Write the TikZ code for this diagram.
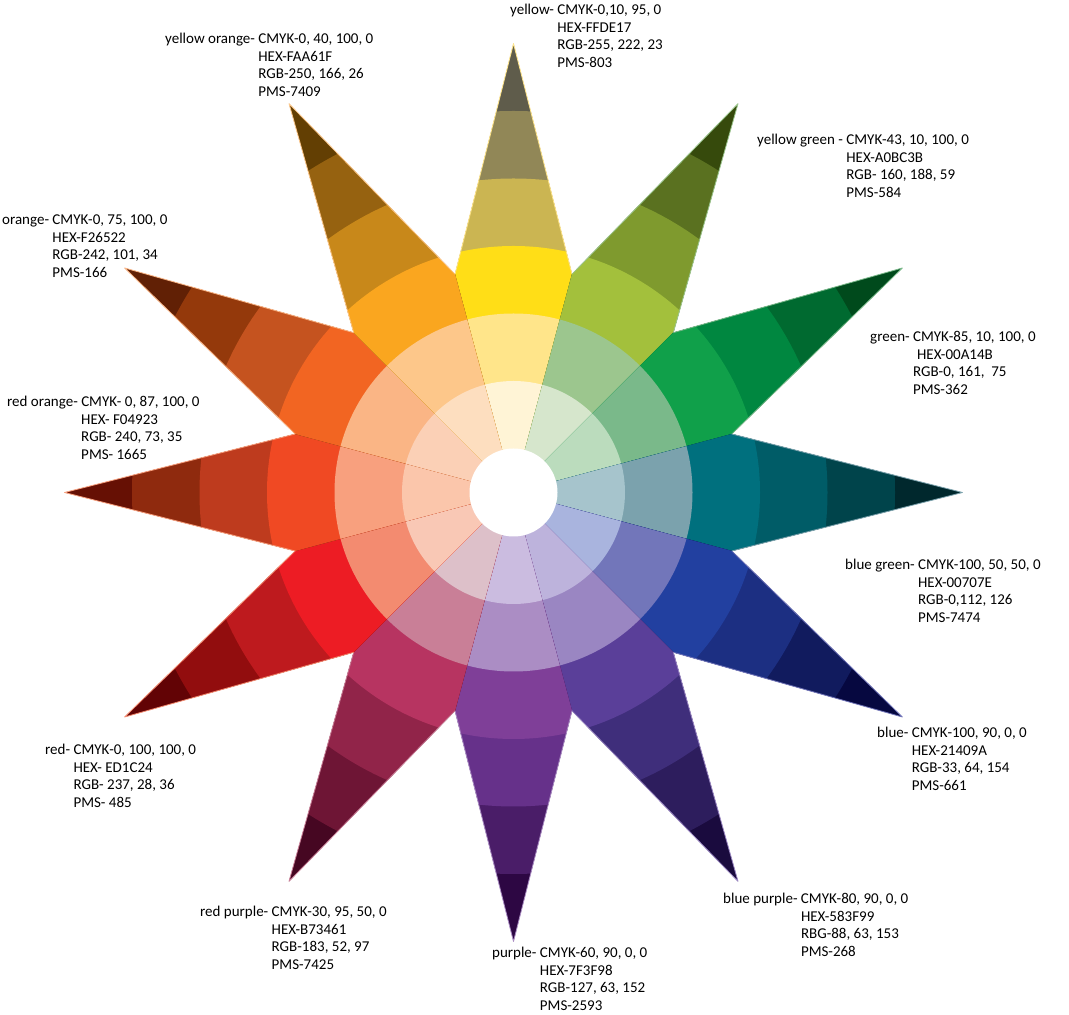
\documentclass[tikz,border=0pt]{standalone}
\usepackage{fontspec}
\setmainfont{Carlito}

% a = inner tint, b = outer tint, c = pure hue, d/e/f = shades
\definecolor{Ya}{HTML}{FFF4D6}\definecolor{Yb}{HTML}{FFE58A}\definecolor{Yc}{HTML}{FFDE17}\definecolor{Yd}{HTML}{CBB552}\definecolor{Ye}{HTML}{918757}\definecolor{Yf}{HTML}{5F5C4B}
\definecolor{YGa}{HTML}{D6E6CC}\definecolor{YGb}{HTML}{9CC68E}\definecolor{YGc}{HTML}{A3C03C}\definecolor{YGd}{HTML}{7F9A2E}\definecolor{YGe}{HTML}{5A7120}\definecolor{YGf}{HTML}{364A0C}
\definecolor{Ga}{HTML}{BBDCBD}\definecolor{Gb}{HTML}{7AB98A}\definecolor{Gc}{HTML}{10A04A}\definecolor{Gd}{HTML}{008740}\definecolor{Ge}{HTML}{006A30}\definecolor{Gf}{HTML}{004A1C}
\definecolor{BGa}{HTML}{A6C4CC}\definecolor{BGb}{HTML}{7BA2AD}\definecolor{BGc}{HTML}{00707E}\definecolor{BGd}{HTML}{005C67}\definecolor{BGe}{HTML}{00444B}\definecolor{BGf}{HTML}{00282D}
\definecolor{Ba}{HTML}{A9B4DE}\definecolor{Bb}{HTML}{7276BA}\definecolor{Bc}{HTML}{2240A0}\definecolor{Bd}{HTML}{1C2F82}\definecolor{Be}{HTML}{111B5E}\definecolor{Bf}{HTML}{060840}
\definecolor{BPa}{HTML}{BDB3DC}\definecolor{BPb}{HTML}{9A86C2}\definecolor{BPc}{HTML}{5A3F99}\definecolor{BPd}{HTML}{3F2E7B}\definecolor{BPe}{HTML}{2D1D5D}\definecolor{BPf}{HTML}{1A0B3E}
\definecolor{Pa}{HTML}{CBBCE0}\definecolor{Pb}{HTML}{AB8DC4}\definecolor{Pc}{HTML}{7F3F98}\definecolor{Pd}{HTML}{66318A}\definecolor{Pe}{HTML}{4A1D68}\definecolor{Pf}{HTML}{2D0743}
\definecolor{RPa}{HTML}{DDC0C9}\definecolor{RPb}{HTML}{C97F97}\definecolor{RPc}{HTML}{B73461}\definecolor{RPd}{HTML}{912449}\definecolor{RPe}{HTML}{6E1535}\definecolor{RPf}{HTML}{460722}
\definecolor{Ra}{HTML}{F9C8B5}\definecolor{Rb}{HTML}{F38B70}\definecolor{Rc}{HTML}{ED1C24}\definecolor{Rd}{HTML}{BE1A1E}\definecolor{Re}{HTML}{920D0E}\definecolor{Rf}{HTML}{620305}
\definecolor{ROa}{HTML}{FBC6AB}\definecolor{ROb}{HTML}{F8A07E}\definecolor{ROc}{HTML}{F04923}\definecolor{ROd}{HTML}{BE3B1E}\definecolor{ROe}{HTML}{8F2A0E}\definecolor{ROf}{HTML}{661004}
\definecolor{Oa}{HTML}{FBD0B6}\definecolor{Ob}{HTML}{FAB585}\definecolor{Oc}{HTML}{F26522}\definecolor{Od}{HTML}{C5531F}\definecolor{Oe}{HTML}{94390B}\definecolor{Of}{HTML}{612005}
\definecolor{YOa}{HTML}{FDDEBF}\definecolor{YOb}{HTML}{FDC78A}\definecolor{YOc}{HTML}{FAA61F}\definecolor{YOd}{HTML}{C8881A}\definecolor{YOe}{HTML}{966210}\definecolor{YOf}{HTML}{633F03}

% one point of the star: #1 direction, #2 colour prefix
\newcommand\petal[2]{%
  \begin{scope}
    \clip (0,0) -- ({#1-15}:226) -- (#1:449) -- ({#1+15}:226) -- cycle;
    \fill[#2f] (0,0) circle (449);
    \fill[#2e] (0,0) circle (381.5);
    \fill[#2d] (0,0) circle (314);
    \fill[#2c] (0,0) circle (246.5);
    \fill[#2b] (0,0) circle (179);
    \fill[#2a] (0,0) circle (111.5);
  \end{scope}
  \draw[#2b, line width=0.8pt, line join=round] ({#1-15}:226) -- (#1:449) -- ({#1+15}:226);}

\newcommand\swatch[5]{\begin{tabular}[t]{@{}l@{\ }l@{}}#1 & #2\\ & #3\\ & #4\\ & #5\end{tabular}}

\begin{document}
\begin{tikzpicture}[x=1pt, y=1pt,
    info/.style={inner sep=0pt, anchor=base west, font=\fontsize{15}{17.5}\selectfont}
]
\path[use as bounding box, fill=white] (0,0) rectangle (1069,1015);
\coordinate (ctr) at (513.5,522.5);

\begin{scope}[shift={(ctr)}]
\petal{90}{Y}
\petal{60}{YG}
\petal{30}{G}
\petal{0}{BG}
\petal{-30}{B}
\petal{-60}{BP}
\petal{-90}{P}
\petal{-120}{RP}
\petal{-150}{R}
\petal{180}{RO}
\petal{150}{O}
\petal{120}{YO}
\fill[white] (0,0) circle (44);
\end{scope}

\node[info] (yellow) at (510,1000) {\swatch{yellow-}{CMYK-0,10, 95, 0}{HEX-FFDE17}{RGB-255, 222, 23}{PMS-803}};
\node[info] (yelloworange) at (165,971) {\swatch{yellow orange-}{CMYK-0, 40, 100, 0}{HEX-FAA61F}{RGB-250, 166, 26}{PMS-7409}};
\node[info] (yellowgreen) at (757,870) {\swatch{yellow green -}{CMYK-43, 10, 100, 0}{HEX-A0BC3B}{RGB- 160, 188, 59}{PMS-584}};
\node[info] (orange) at (2,790) {\swatch{orange-}{CMYK-0, 75, 100, 0}{HEX-F26522}{RGB-242, 101, 34}{PMS-166}};
\node[info] (green) at (870,673) {\swatch{green-}{CMYK-85, 10, 100, 0}{\hspace{4pt}HEX-00A14B}{RGB-0, 161,\ \ 75}{PMS-362}};
\node[info] (redorange) at (7,608) {\swatch{red orange-}{CMYK- 0, 87, 100, 0}{HEX- F04923}{RGB- 240, 73, 35}{PMS- 1665}};
\node[info] (bluegreen) at (845,445) {\swatch{blue green-}{CMYK-100, 50, 50, 0}{HEX-00707E}{RGB-0,112, 126}{PMS-7474}};
\node[info] (red) at (45,260) {\swatch{red-}{CMYK-0, 100, 100, 0}{HEX- ED1C24}{RGB- 237, 28, 36}{PMS- 485}};
\node[info] (blue) at (877,277) {\swatch{blue-}{CMYK-100, 90, 0, 0}{HEX-21409A}{RGB-33, 64, 154}{PMS-661}};
\node[info] (bluepurple) at (723,111) {\swatch{blue purple-}{CMYK-80, 90, 0, 0}{HEX-583F99}{RBG-88, 63, 153}{PMS-268}};
\node[info] (redpurple) at (200,98) {\swatch{red purple-}{CMYK-30, 95, 50, 0}{HEX-B73461}{RGB-183, 52, 97}{PMS-7425}};
\node[info] (purple) at (492,57) {\swatch{purple-}{CMYK-60, 90, 0, 0}{HEX-7F3F98}{RGB-127, 63, 152}{PMS-2593}};
\end{tikzpicture}
\end{document}
